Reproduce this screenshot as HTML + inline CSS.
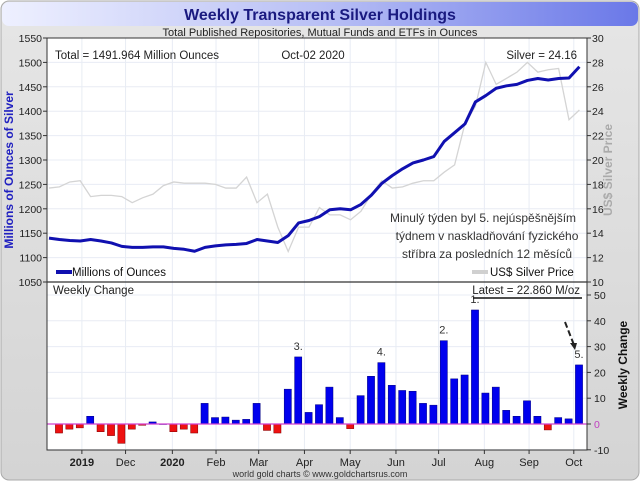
<!DOCTYPE html>
<html><head><meta charset="utf-8"><style>
body{margin:0;background:#fff;font-family:"Liberation Sans","DejaVu Sans",sans-serif;}
svg text{font-family:"Liberation Sans","DejaVu Sans",sans-serif;}
</style></head><body>
<svg id="c" width="640" height="481" viewBox="0 0 640 481" xmlns="http://www.w3.org/2000/svg">
<defs>
<linearGradient id="bg" x1="0" y1="0" x2="0" y2="1"><stop offset="0" stop-color="#e6e6e6"/><stop offset="1" stop-color="#d4d4d4"/></linearGradient>
<linearGradient id="tb" x1="0" y1="0" x2="1" y2="0"><stop offset="0" stop-color="#eef0ff"/><stop offset="0.5" stop-color="#b9c0f5"/><stop offset="1" stop-color="#6a78e8"/></linearGradient>
</defs>
<rect x="1" y="1" width="638" height="479" rx="8" fill="url(#bg)" stroke="#aaa"/>
<rect x="2" y="2" width="636" height="24" rx="7" fill="url(#tb)"/>
<text x="320" y="20" text-anchor="middle" font-size="16" font-weight="bold" fill="#1a1a80">Weekly Transparent Silver Holdings</text>
<text x="320" y="36" text-anchor="middle" font-size="11" fill="#222">Total Published Repositories, Mutual Funds and ETFs in Ounces</text>
<rect x="47" y="38" width="540" height="412" fill="#fff"/>
<g id="grid"></g>
<g id="top"></g>
<g id="bot"></g>
<line x1="47" y1="282" x2="587" y2="282" stroke="#333" stroke-width="1.2"/>
<rect x="47" y="38" width="540" height="412" fill="none" stroke="#333"/>
<text x="55" y="59" font-size="11.5" fill="#222">Total = 1491.964 Million Ounces</text>
<text x="313" y="59" text-anchor="middle" font-size="11.5" fill="#222">Oct-02  2020</text>
<text x="577" y="59" text-anchor="end" font-size="11.5" fill="#222">Silver = 24.16</text>
<line x1="56" y1="272" x2="72" y2="272" stroke="#1010b0" stroke-width="4"/>
<text x="72" y="276" font-size="11.5" fill="#111">Millions of Ounces</text>
<line x1="472" y1="272" x2="488" y2="272" stroke="#d0d0d0" stroke-width="4"/>
<text x="490" y="276" font-size="11.5" fill="#111">US$ Silver Price</text>
<text x="53" y="294" font-size="11.5" fill="#222">Weekly Change</text>
<text x="580" y="294" text-anchor="end" font-size="11.5" fill="#222">Latest = 22.860 M/oz</text>
<line x1="473" y1="298" x2="582" y2="298" stroke="#111" stroke-width="1.5"/>
<text x="483" y="222" text-anchor="middle" font-size="12" fill="#333">Minulý týden byl 5. nejúspěšnějším</text>
<text x="487" y="240" text-anchor="middle" font-size="12" fill="#333">týdnem v naskladňování fyzického</text>
<text x="487" y="258" text-anchor="middle" font-size="12" fill="#333">stříbra za posledních 12 měsíců</text>
<path d="M565 322 L574 345" stroke="#222" stroke-width="2" stroke-dasharray="6,3" fill="none"/>
<path d="M570 343 L577 343 L575 350 Z" fill="#222"/>
<text x="13" y="170" transform="rotate(-90 13 170)" text-anchor="middle" font-size="12" font-weight="bold" fill="#2020c0">Millions of Ounces of Silver</text>
<text x="612" y="170" transform="rotate(-90 612 170)" text-anchor="middle" font-size="12" font-weight="bold" fill="#aaa">US$ Silver Price</text>
<text x="627" y="365" transform="rotate(-90 627 365)" text-anchor="middle" font-size="12" font-weight="bold" fill="#111">Weekly Change</text>
<text x="320" y="477" text-anchor="middle" font-size="9" fill="#333">world gold charts © www.goldchartsrus.com</text>
<g id="axes"></g>
</svg>
<script>
const holdings=[1140,1137,1135,1134,1137,1134,1130,1123,1121,1121,1122,1122,1119,1117,1113,1121,1124,1126,1127,1129,1137,1134,1131,1145,1171,1176,1184,1198,1200,1198,1209,1228,1252,1268,1282,1294,1300,1307,1338,1356,1374,1419,1432,1447,1452,1455,1463,1467,1464,1467,1468,1491];
const silverPrice=[17.7,17.8,18.2,18.3,17,17.1,17.1,17,16.5,16.9,17.2,17.9,18.2,18.1,18.1,18.1,18,17.7,17.7,18.6,16.5,17.2,14.5,12.5,14.5,14.5,16.1,15.5,15.5,15.1,15.8,17.2,18.3,17.7,17.8,18.1,18.3,18.3,19,19.6,23,24.4,28,26.2,26.7,27.2,28,27.2,27.4,27.5,23.3,24.1];
const weeklyChange=[-3.5,-2,-1.5,3,-3,-4.5,-7.5,-2,-0.5,0.8,0,-3,-2,-3.5,8,2.5,2.7,1.5,1.8,8,-2.5,-3.5,13.5,26,4.5,7.5,14.3,2.5,-1.8,11,18.5,23.8,15,13,12.7,8,7.3,32.3,17.5,19,44.2,12,14.3,5.3,3,9,3,-2.3,2.5,2,22.9];
const leftTicks=[1050,1100,1150,1200,1250,1300,1350,1400,1450,1500,1550];
const priceTicks=[10,12,14,16,18,20,22,24,26,28,30];
const changeTicks=[-10,0,10,20,30,40,50];
const monthLabels=["2019","Dec","2020","Feb","Mar","Apr","May","Jun","Jul","Aug","Sep","Oct"];
const monthIdx=[2.2,6.4,10.9,15.1,19.2,23.6,28,32.4,36.5,40.9,45.2,49.5];
const bold=["2019","2020"];
const ranks=[[40,"1."],[37,"2."],[23,"3."],[31,"4."],[50,"5."]];
const NS="http://www.w3.org/2000/svg";
const xBar=i=>59+i*10.4, xLine=j=>49+j*10.4;
const yL=v=>38+(1550-v)*244/500, yP=v=>38+(30-v)*244/20, yC=v=>424-v*2.58;
function mk(t,a,p){const e=document.createElementNS(NS,t);for(const k in a)e.setAttribute(k,a[k]);(p||document.getElementById('c')).appendChild(e);return e;}
const G=document.getElementById('grid'),T=document.getElementById('top'),B=document.getElementById('bot'),A=document.getElementById('axes');
leftTicks.forEach(v=>{mk('line',{x1:47,x2:587,y1:yL(v),y2:yL(v),stroke:'#e8ecf4'},G);
 const t=mk('text',{x:42,y:yL(v)+4,'text-anchor':'end','font-size':10.5,fill:'#222'},A);t.textContent=v;
 
 
 mk('line',{x1:43,x2:47,y1:yL(v),y2:yL(v),stroke:'#333'},A);});
priceTicks.forEach(v=>{const t=mk('text',{x:592,y:yP(v)+4,'font-size':10.5,fill:'#222'},A);t.textContent=v;
 
 
 mk('line',{x1:587,x2:591,y1:yP(v),y2:yP(v),stroke:'#333'},A);});
changeTicks.forEach(v=>{mk('line',{x1:47,x2:587,y1:yC(v),y2:yC(v),stroke:'#e8ecf4'},G);
 const t=mk('text',{x:594,y:yC(v)+4,'font-size':10.5,fill:v===0?'#c040c0':'#222'},A);t.textContent=v;
 
 
 mk('line',{x1:587,x2:591,y1:yC(v),y2:yC(v),stroke:'#333'},A);});
monthLabels.forEach((m,i)=>{const x=xBar(monthIdx[i]);
 mk('line',{x1:x,x2:x,y1:38,y2:450,stroke:'#e8ecf4'},G);
 mk('line',{x1:x,x2:x,y1:450,y2:454,stroke:'#333'},A);
 const t=mk('text',{x:x,y:466,'text-anchor':'middle','font-size':11,fill:'#222','font-weight':bold.includes(m)?'bold':'normal'},A);t.textContent=m;
 
 });
const pp=mk('polyline',{points:silverPrice.map((v,j)=>xLine(j)+','+yP(v)).join(' '),fill:'none',stroke:'#d4d4d4','stroke-width':1.3},T);


const hl=mk('polyline',{points:holdings.map((v,j)=>xLine(j)+','+yL(v)).join(' '),fill:'none',stroke:'#1010b0','stroke-width':3,'stroke-linejoin':'round'},T);


weeklyChange.forEach((v,i)=>{const y0=yC(0),y1=yC(v);
 const r=mk('rect',{x:xBar(i)-3.6,y:Math.min(y0,y1),width:7.2,height:Math.max(0.5,Math.abs(y1-y0)),fill:v>=0?'#0000ee':'#ee1111',stroke:v>=0?'#000080':'#800000','stroke-width':0.5},B);
 
 });
mk('line',{x1:47,x2:587,y1:yC(0),y2:yC(0),stroke:'#d040d0','stroke-width':1.2},B);
ranks.forEach(([i,l])=>{const t=mk('text',{x:xBar(i),y:yC(weeklyChange[i])-7,'text-anchor':'middle','font-size':11,fill:'#333'},B);t.textContent=l;
 
 });
</script>
</body></html>
